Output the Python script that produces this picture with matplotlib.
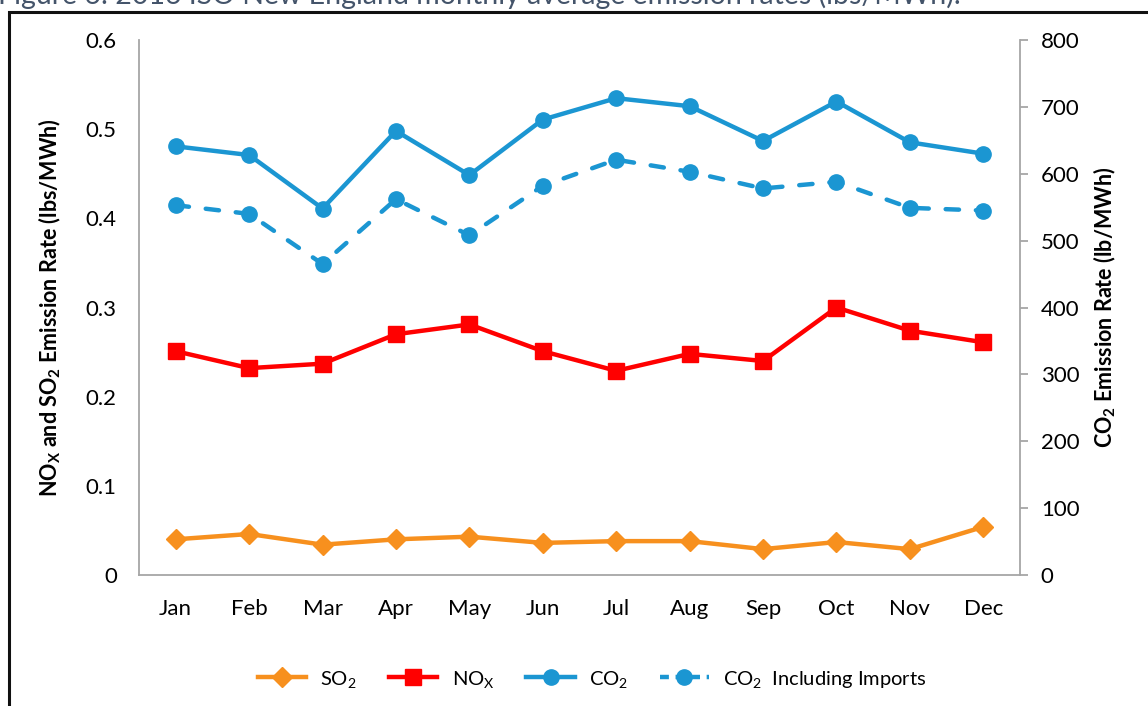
import matplotlib
matplotlib.use("Agg")
import matplotlib.pyplot as plt
from matplotlib.lines import Line2D
from matplotlib.patches import Rectangle

plt.rcParams['font.family'] = ['Lato', 'DejaVu Sans']
plt.rcParams['mathtext.default'] = 'regular'

months = ["Jan", "Feb", "Mar", "Apr", "May", "Jun", "Jul", "Aug", "Sep", "Oct", "Nov", "Dec"]
so2 = [0.040, 0.046, 0.034, 0.040, 0.043, 0.036, 0.038, 0.038, 0.029, 0.037, 0.029, 0.054]
nox = [0.251, 0.232, 0.237, 0.270, 0.281, 0.251, 0.229, 0.248, 0.240, 0.300, 0.274, 0.261]
co2 = [641, 628, 548, 664, 598, 681, 713, 701, 649, 708, 647, 630]
co2_imports = [553, 540, 465, 562, 508, 582, 621, 603, 578, 588, 549, 545]

left_ticks = [0, 0.1, 0.2, 0.3, 0.4, 0.5, 0.6]
left_labels = ["0", "0.1", "0.2", "0.3", "0.4", "0.5", "0.6"]
right_ticks = [0, 100, 200, 300, 400, 500, 600, 700, 800]

ORANGE = "#F7901E"
RED = "#FF0000"
BLUE = "#1B96D2"
GREY = "#A6A6A6"

fig = plt.figure(figsize=(11.48, 7.06), dpi=100)

# outer border (chart frame) and cut-off caption
fig.patches.append(Rectangle((9/1148, -0.1), 1.2, (706-12)/706 + 0.1, transform=fig.transFigure,
                             fill=False, edgecolor="#111111", linewidth=2.2, zorder=0))
fig.text(-0.002, 1.0 - 4/706, "Figure 6: 2016 ISO New England monthly average emission rates (lbs/MWh).",
         color="#44546A", fontsize=20.5, ha="left", va="baseline")

ax = fig.add_axes([139/1148, (706-575)/706, (1020-139)/1148, (575-40)/706])
x = list(range(len(months)))

ax.plot(x, so2, color=ORANGE, linewidth=3.2, marker="D", markersize=10, zorder=3)
ax.plot(x, nox, color=RED, linewidth=3.2, marker="s", markersize=11, zorder=3)

ax.set_xlim(-0.5, 11.5)
ax.set_ylim(0, 0.6)
ax.set_yticks(left_ticks)
ax.set_yticklabels(left_labels)
ax.set_xticks(x)
ax.set_xticklabels(months)
ax.tick_params(axis="both", length=0, labelsize=16, colors="#000000")
ax.tick_params(axis="y", pad=16)
ax.tick_params(axis="x", pad=17)
for s in ["top", "right"]:
    ax.spines[s].set_visible(False)
for s in ["left", "bottom"]:
    ax.spines[s].set_color(GREY)
    ax.spines[s].set_linewidth(1.3)
ax.set_ylabel("NO$_X$ and SO$_2$ Emission Rate (lbs/MWh)", fontsize=15.5, fontweight="bold", labelpad=16)

ax2 = ax.twinx()
ax2.plot(x, co2, color=BLUE, linewidth=3.2, marker="o", markersize=11, zorder=3)
ax2.plot(x, co2_imports, color=BLUE, linewidth=3.2, marker="o", markersize=11, zorder=3,
         linestyle=(0, (3.0, 3.8)), dash_capstyle="round")
ax2.set_ylim(0, 800)
ax2.set_yticks(right_ticks)
ax2.tick_params(axis="y", length=6, width=1.3, color=GREY, labelsize=16, pad=9, direction="out")
for s in ["top", "left", "bottom"]:
    ax2.spines[s].set_visible(False)
ax2.spines["right"].set_color(GREY)
ax2.spines["right"].set_linewidth(1.3)
ax2.set_ylabel("CO$_2$ Emission Rate (lb/MWh)", fontsize=15.5, fontweight="bold", labelpad=9)

handles = [
    Line2D([], [], color=ORANGE, linewidth=3.2, marker="D", markersize=10),
    Line2D([], [], color=RED, linewidth=3.2, marker="s", markersize=11),
    Line2D([], [], color=BLUE, linewidth=3.2, marker="o", markersize=11),
    Line2D([], [], color=BLUE, linewidth=3.2, marker="o", markersize=11, linestyle=(0, (2.0, 1.5))),
]
labels = ["SO$_2$", "NO$_X$", "CO$_2$", "CO$_2$  Including Imports"]
fig.legend(handles, labels, loc="center", bbox_to_anchor=(592/1148, (706-679)/706), ncol=4,
           frameon=False, fontsize=14.5, handlelength=2.4, columnspacing=1.6, handletextpad=0.7)

fig.savefig("out.png", dpi=100)
